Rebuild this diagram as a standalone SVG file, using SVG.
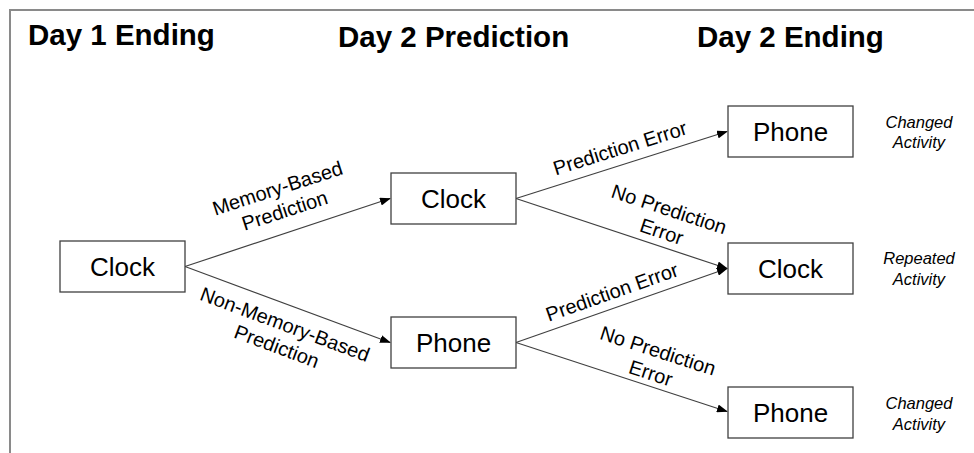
<svg xmlns="http://www.w3.org/2000/svg" width="974" height="453" viewBox="0 0 974 453">
<defs>
<marker id="arr" markerWidth="11" markerHeight="8" refX="10" refY="4" orient="auto" markerUnits="userSpaceOnUse">
<path d="M0,0 L11,4 L0,8 z" fill="#000"/>
</marker>
<style>
.frame{stroke:#8a8a8a;stroke-width:2;fill:none}
.title{font-family:"Liberation Sans",Arial,sans-serif;font-weight:bold;font-size:29.5px;fill:#000}
.box rect{fill:#fff;stroke:#404040;stroke-width:1.3}
.box text{font-family:"Liberation Sans",Arial,sans-serif;font-size:26px;fill:#000;text-anchor:middle}
.edge{stroke:#404040;stroke-width:1.2;fill:none;marker-end:url(#arr)}
.lbl{font-family:"Liberation Sans",Arial,sans-serif;font-size:20px;fill:#000;text-anchor:middle}
.note{font-family:"Liberation Sans",Arial,sans-serif;font-style:italic;font-size:16.5px;fill:#000;text-anchor:middle}
</style>
</defs>
<rect width="974" height="453" fill="#fff"/>
<path class="frame" d="M10,453 V10 H974"/>

<text class="title" x="28" y="45">Day 1 Ending</text>
<text class="title" x="338" y="47">Day 2 Prediction</text>
<text class="title" x="697" y="47">Day 2 Ending</text>

<g id="connectors">
<line class="edge" x1="185" y1="266.5" x2="390" y2="198.5"/>
<line class="edge" x1="185" y1="266.5" x2="390" y2="342.5"/>
<line class="edge" x1="516" y1="198.5" x2="727" y2="131.5"/>
<line class="edge" x1="516" y1="198.5" x2="727" y2="268.5"/>
<line class="edge" x1="516" y1="342.5" x2="727" y2="268.5"/>
<line class="edge" x1="516" y1="342.5" x2="727" y2="411.5"/>
<text class="lbl" transform="translate(281,199) rotate(-18)"><tspan x="0" y="-4.5">Memory-Based</tspan><tspan x="0" y="19">Prediction</tspan></text>
<text class="lbl" transform="translate(281,335) rotate(20.5)"><tspan x="0" y="-4.5">Non-Memory-Based</tspan><tspan x="0" y="19">Prediction</tspan></text>
<text class="lbl" transform="translate(620,148) rotate(-17.5)" y="7">Prediction Error</text>
<text class="lbl" transform="translate(665.5,220) rotate(18.3)"><tspan x="0" y="-4.5">No Prediction</tspan><tspan x="0" y="19">Error</tspan></text>
<text class="lbl" transform="translate(612,292) rotate(-19.5)" y="7">Prediction Error</text>
<text class="lbl" transform="translate(654.5,361.5) rotate(18)"><tspan x="0" y="-4.5">No Prediction</tspan><tspan x="0" y="19">Error</tspan></text>
</g>

<g id="day1-clock" class="box"><rect x="60" y="241" width="125" height="51"/><text x="122.5" y="275.5">Clock</text></g>
<g id="day2-clock" class="box"><rect x="391" y="173" width="125" height="51"/><text x="453.5" y="207.5">Clock</text></g>
<g id="day2-phone" class="box"><rect x="391" y="317" width="125" height="51"/><text x="453.5" y="351.5">Phone</text></g>
<g id="end-phone-top" class="box"><rect x="728" y="106" width="125" height="51"/><text x="790.5" y="140.5">Phone</text></g>
<g id="end-clock" class="box"><rect x="728" y="243" width="125" height="51"/><text x="790.5" y="277.5">Clock</text></g>
<g id="end-phone-bottom" class="box"><rect x="728" y="387" width="125" height="51"/><text x="790.5" y="421.5">Phone</text></g>

<g id="note-top"><text class="note"><tspan x="919" y="128">Changed</tspan><tspan x="919" y="148">Activity</tspan></text></g>
<g id="note-mid"><text class="note"><tspan x="919" y="264">Repeated</tspan><tspan x="919" y="285">Activity</tspan></text></g>
<g id="note-bottom"><text class="note"><tspan x="919" y="409">Changed</tspan><tspan x="919" y="430">Activity</tspan></text></g>
</svg>
